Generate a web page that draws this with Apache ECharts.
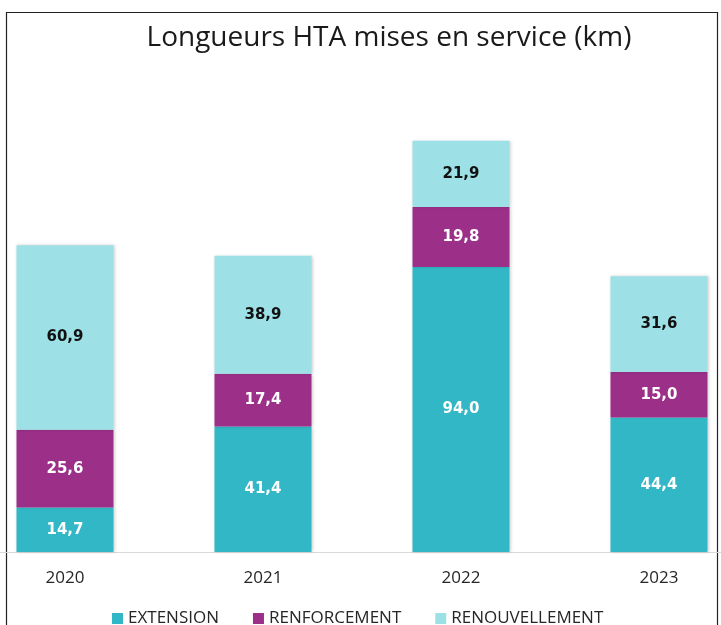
<!DOCTYPE html>
<html>
<head>
<meta charset="utf-8">
<script src="https://cdn.jsdelivr.net/npm/echarts@6/dist/echarts.min.js"></script>
<style>
    html, body { margin: 0; padding: 0; background: #fff; overflow: hidden; }
    body { width: 721px; height: 625px; position: relative; }
    /* plot area of the original is wider than the visible crop */
    #chart { position: absolute; left: -34px; top: 0; width: 792px; height: 625px; }
</style>
</head>
<body>
<div id="chart"></div>
<script>
// Data
var years = ['2020', '2021', '2022', '2023'];
var extension = [14.7, 41.4, 94.0, 44.4];
var renforcement = [25.6, 17.4, 19.8, 15.0];
var renouvellement = [60.9, 38.9, 21.9, 31.6];

var chartElement = document.getElementById('chart');
var chart = echarts.init(chartElement);

// French number format
var frLabel = function (p) {
    return p.value.toFixed(1).replace('.', ',');
};

var makeSeries = function (name, data, color, labelColor) {
    return {
        name: name,
        type: 'bar',
        stack: 'total',
        barWidth: '49%',
        data: data,
        itemStyle: {
            color: color,
            shadowColor: 'rgba(0,0,0,0.18)',
            shadowBlur: 3,
            shadowOffsetX: 1
        },
        label: {
            show: true,
            position: 'inside',
            formatter: frLabel,
            color: labelColor,
            fontFamily: 'DejaVu Sans',
            fontWeight: 'bold',
            fontSize: 15
        }
    };
};

chart.setOption({
    animation: false,
    textStyle: {
        fontFamily: 'Open Sans, Noto Sans, sans-serif'
    },

    // Frame
    graphic: [
        {
            type: 'rect',
            shape: { x: 40.5, y: 12.5, width: 711, height: 640 },
            style: { fill: 'none', stroke: '#222', lineWidth: 1.2 },
            silent: true
        }
    ],

    title: {
        text: 'Longueurs HTA mises en service (km)',
        left: 418,
        textAlign: 'center',
        top: 19,
        textStyle: {
            fontFamily: 'Open Sans',
            fontWeight: 'normal',
            fontSize: 28,
            color: '#1a1a1a'
        }
    },

    legend: {
        top: 605,
        left: 141,
        itemWidth: 11,
        itemHeight: 11,
        itemGap: 34,
        icon: 'rect',
        textStyle: {
            fontFamily: 'Open Sans',
            fontSize: 17,
            color: '#262626'
        },
        data: ['EXTENSION', 'RENFORCEMENT', 'RENOUVELLEMENT']
    },

    grid: {
        left: 0,
        right: 0,
        top: 67,
        bottom: 73
    },

    xAxis: {
        type: 'category',
        data: years,
        axisTick: { show: false },
        axisLine: {
            lineStyle: { color: '#d9d9d9', width: 1 }
        },
        axisLabel: {
            margin: 18,
            fontFamily: 'Open Sans',
            fontSize: 17,
            color: '#262626'
        }
    },

    yAxis: {
        type: 'value',
        min: 0,
        max: 160,
        show: false,
        splitLine: { show: false }
    },

    series: [
        makeSeries('EXTENSION', extension, '#31b7c6', '#ffffff'),
        makeSeries('RENFORCEMENT', renforcement, '#9c3089', '#ffffff'),
        makeSeries('RENOUVELLEMENT', renouvellement, '#9de1e6', '#111111')
    ]
});
</script>
</body>
</html>
